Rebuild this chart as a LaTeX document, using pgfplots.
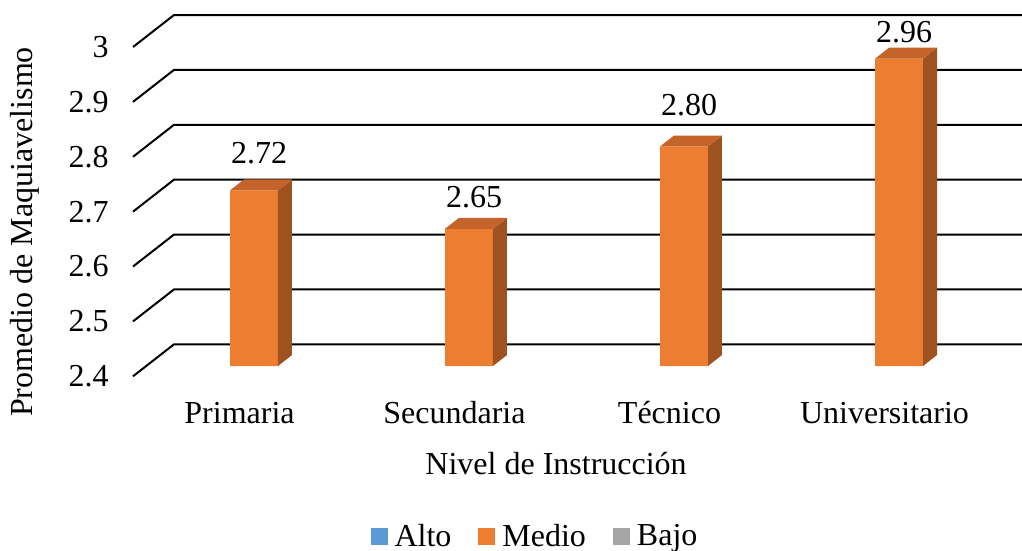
\documentclass[border=0pt]{standalone}
\usepackage{pgfplots}
\pgfplotsset{compat=1.18}
\usepackage{pgfplotstable}
\usepackage{fontspec}
\setmainfont{Liberation Serif}
\definecolor{cfront}{HTML}{ED7D31}
\definecolor{cside}{HTML}{9E521F}
\definecolor{ctop}{HTML}{C4632A}
\definecolor{calto}{HTML}{5B9BD5}
\definecolor{cbajo}{HTML}{A5A5A5}
\newcommand\f{\fontsize{16pt}{18pt}\selectfont}
\pgfplotsset{/pgf/number format/assume math mode=true}
\pgfplotstableread{
x y off
0 2.72 37
1 2.65 32
2 2.80 41
3 2.96 27
}\datatable
\begin{document}
\begin{tikzpicture}
\useasboundingbox (0,0) rectangle (511pt,-275.5pt);
% back plane with grid lines
\begin{axis}[
  at={(87pt,-172.15pt)}, anchor=south west,
  scale only axis, width=424pt, height=164.64pt,
  xmin=0, xmax=1, ymin=2.4, ymax=3,
  clip=false,
  axis line style={draw=none}, major tick length=0pt,
  xtick=\empty, ytick={2.4,2.5,2.6,2.7,2.8,2.9,3},
  yticklabel style={font=\f, anchor=east, inner sep=0pt, xshift=-32.5pt, yshift=-16pt},
]
\pgfplotsinvokeforeach{2.4,2.5,2.6,2.7,2.8,2.9,3}{
  \draw[black, line width=1pt, line join=round] (axis cs:1,#1) -- (axis cs:0,#1) -- ++(-20.5pt,-16pt);
}
\end{axis}
% bar plane
\begin{axis}[
  at={(62.5pt,-183pt)}, anchor=south west,
  scale only axis, x=107.5pt, y=274.4pt,
  xmin=-0.6, xmax=3.6, ymin=2.4, ymax=3.05,
  axis line style={draw=none}, major tick length=0pt,
  xtick={0,1,2,3}, xticklabels={Primaria,Secundaria,Técnico,Universitario},
  xticklabel style={font=\f, anchor=base, inner sep=0pt, xshift=-7.25pt, yshift=-28.5pt},
  ytick=\empty,
  xlabel={Nivel de Instrucción},
  xlabel style={at={(axis cs:1.405,2.2014)}, anchor=base, font=\f, inner sep=0pt},
  ylabel={Promedio de Maquiavelismo},
  ylabel style={at={(axis cs:-1.028,2.6442)}, anchor=base, font=\f, inner sep=0pt},
  legend columns=3,
  legend image code/.code={\fill[#1, draw=none] (0pt,-4pt) rectangle (8.5pt,4.5pt);},
  legend style={at={(axis description cs:0.4529,-0.479)}, anchor=center, draw=none, fill=none,
    font=\f, inner sep=0pt, nodes={inner sep=0pt},
    /tikz/every odd column/.append style={column sep=3.5pt},
    /tikz/every even column/.append style={column sep=13.5pt}},
]
\addplot[ybar, bar width=24pt, fill=cfront, draw=none, forget plot,
  point meta=y,
  visualization depends on={\thisrow{off} \as \off},
  nodes near coords={\pgfmathprintnumber[fixed,fixed zerofill,precision=2]{\pgfplotspointmeta}},
  every node near coord/.append style={font=\f, anchor=center, inner sep=0pt, xshift=2.5pt, yshift=\off*0.5pt, text=black},
] table[x=x, y=y] {\datatable};
% side faces
\addplot[fill=cside, draw=none, forget plot] coordinates {(0.1116,2.4) (0.1767,2.42) (0.1767,2.74) (0.1116,2.72)};
\addplot[fill=cside, draw=none, forget plot] coordinates {(1.1116,2.4) (1.1767,2.42) (1.1767,2.67) (1.1116,2.65)};
\addplot[fill=cside, draw=none, forget plot] coordinates {(2.1116,2.4) (2.1767,2.42) (2.1767,2.82) (2.1116,2.80)};
\addplot[fill=cside, draw=none, forget plot] coordinates {(3.1116,2.4) (3.1767,2.42) (3.1767,2.98) (3.1116,2.96)};
% top faces
\addplot[fill=ctop, draw=none, forget plot] coordinates {(-0.1116,2.72) (0.1116,2.72) (0.1767,2.74) (-0.0465,2.74)};
\addplot[fill=ctop, draw=none, forget plot] coordinates {(0.8884,2.65) (1.1116,2.65) (1.1767,2.67) (0.9535,2.67)};
\addplot[fill=ctop, draw=none, forget plot] coordinates {(1.8884,2.80) (2.1116,2.80) (2.1767,2.82) (1.9535,2.82)};
\addplot[fill=ctop, draw=none, forget plot] coordinates {(2.8884,2.96) (3.1116,2.96) (3.1767,2.98) (2.9535,2.98)};
\addlegendimage{fill=calto}
\addlegendentry{Alto}
\addlegendimage{fill=cfront}
\addlegendentry{Medio}
\addlegendimage{fill=cbajo}
\addlegendentry{Bajo}
\end{axis}
\end{tikzpicture}
\end{document}
